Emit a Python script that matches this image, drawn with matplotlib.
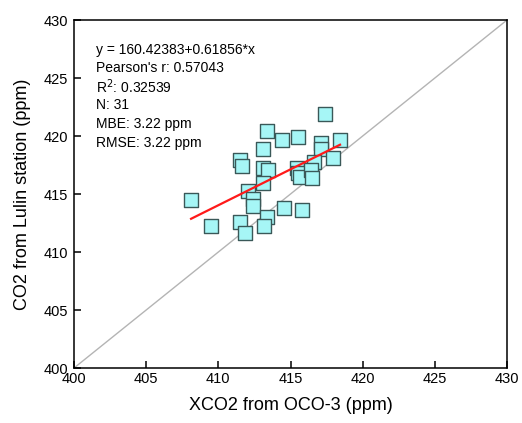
import numpy as np
import matplotlib
matplotlib.use("Agg")
import matplotlib.pyplot as plt

plt.rcParams['font.family'] = ['Liberation Sans', 'DejaVu Sans']

# OCO-3 XCO2 vs. Lulin station CO2 (ppm)
xco2_oco3 = [408.11, 409.49, 411.50, 411.64, 412.06, 412.40, 412.40, 411.50,
             411.85, 413.10, 413.37, 413.10, 413.44, 413.10, 413.37, 413.17,
             414.41, 415.52, 417.39, 417.12, 417.12, 418.43, 416.63, 417.94,
             415.45, 415.52, 415.66, 416.42, 416.49, 414.55, 415.80]
co2_lulin = [414.48, 412.24, 417.93, 417.41, 415.26, 414.57, 413.97, 412.59,
             411.64, 418.88, 420.43, 417.24, 417.07, 415.95, 413.02, 412.24,
             419.66, 419.91, 421.90, 419.40, 418.88, 419.66, 417.76, 418.10,
             417.24, 416.81, 416.47, 417.07, 416.38, 413.79, 413.62]

fit_intercept = 160.42383
fit_slope = 0.61856
stats_lines = [
    "y = 160.42383+0.61856*x",
    "Pearson's r: 0.57043",
    "R$^2$: 0.32539",
    "N: 31",
    "MBE: 3.22 ppm",
    "RMSE: 3.22 ppm",
]

axis_ticks = [400, 405, 410, 415, 420, 425, 430]

fig = plt.figure(figsize=(5.22, 4.23), dpi=100)
ax = fig.add_axes([0.1418, 0.13, 0.8295, 0.8227])

# 1:1 reference line
ax.plot([400, 430], [400, 430], color='#b4b4b4', lw=1.0, zorder=1)

ax.scatter(xco2_oco3, co2_lulin, marker='s', s=100, facecolor='#a6f6f6',
           edgecolor='#3a5858', linewidths=1.0, zorder=3)

xs = np.array([min(xco2_oco3), max(xco2_oco3)])
ax.plot(xs, fit_intercept + fit_slope * xs, color='#ff1a1a', lw=1.6, zorder=4)

ax.set_xlim(400, 430)
ax.set_ylim(400, 430)
ax.set_xticks(axis_ticks)
ax.set_yticks(axis_ticks)
ax.tick_params(direction='in', length=5, width=1.1, labelsize=10.5, pad=4)
ax.tick_params(axis='x', pad=3)
for s in ax.spines.values():
    s.set_linewidth(1.1)

ax.set_xlabel("XCO2 from OCO-3 (ppm)", fontsize=13, labelpad=8)
ax.set_ylabel("CO2 from Lulin station (ppm)", fontsize=13, labelpad=9)

for i, line in enumerate(stats_lines):
    ax.text(0.05, 0.915 - i * 0.0535, line, transform=ax.transAxes,
            fontsize=10, va='center', ha='left')

fig.savefig("out.png", dpi=100)
